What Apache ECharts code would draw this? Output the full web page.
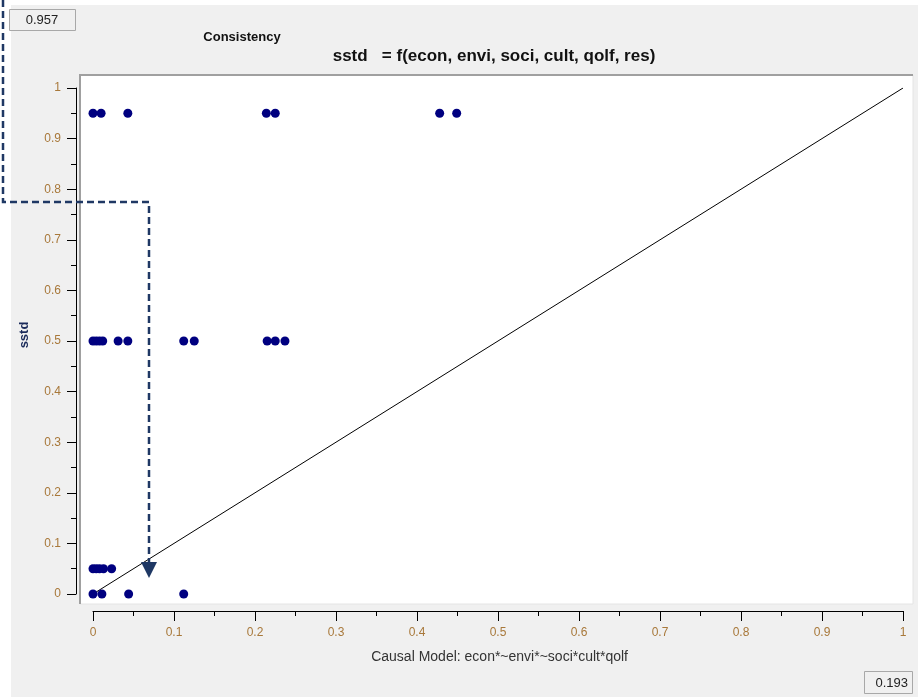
<!DOCTYPE html>
<html>
<head>
<meta charset="utf-8">
<script src="https://cdn.jsdelivr.net/npm/echarts@6/dist/echarts.min.js"></script>
<style>html,body{margin:0;padding:0;background:#fff;}#c{width:918px;height:697px;}</style>
</head>
<body>
<div id="c"></div>
<script>
// ---- data ----
var titleText = "Consistency";
var subtitleText = "sstd   = f(econ, envi, soci, cult, qolf, res)";
var xAxisName = "Causal Model: econ*~envi*~soci*cult*qolf";
var yAxisName = "sstd";
var consistencyValue = "0.957";
var coverageValue = "0.193";
var pointsX = [0, 0.01, 0.043, 0.214, 0.225, 0.428, 0.449,
               0, 0.004, 0.008, 0.012, 0.031, 0.043, 0.112, 0.125, 0.215, 0.225, 0.237,
               0, 0.004, 0.008, 0.013, 0.023,
               0, 0.011, 0.044, 0.112];
var pointsY = [0.95, 0.95, 0.95, 0.95, 0.95, 0.95, 0.95,
               0.5, 0.5, 0.5, 0.5, 0.5, 0.5, 0.5, 0.5, 0.5, 0.5, 0.5,
               0.05, 0.05, 0.05, 0.05, 0.05,
               0, 0, 0, 0];
var diagX = [0, 1];
var diagY = [0, 1];

var scatterData = pointsX.map(function (x, i) { return [x, pointsY[i]]; });
var diagData = diagX.map(function (x, i) { return [x, diagY[i]]; });

var labelColor = '#a8783a';
var font = 'Liberation Sans, Arial, sans-serif';
var arrowColor = '#1f3864';

var chart = echarts.init(document.getElementById('c'), null, {renderer: 'canvas'});
chart.setOption({
  backgroundColor: '#ffffff',
  animation: false,
  textStyle: {fontFamily: font},
  grid: {left: 93, right: 15, top: 88, bottom: 103},
  xAxis: {
    type: 'value', min: 0, max: 1, interval: 0.1, offset: 17,
    splitLine: {show: false},
    axisLine: {onZero: false, lineStyle: {color: '#000', width: 1}},
    axisTick: {show: true, inside: false, length: 10, lineStyle: {color: '#000'}},
    minorTick: {show: true, splitNumber: 2, length: 5, lineStyle: {color: '#000'}},
    axisLabel: {color: labelColor, fontSize: 12, margin: 16, fontFamily: font}
  },
  yAxis: {
    type: 'value', min: 0, max: 1, interval: 0.1, offset: 17,
    splitLine: {show: false},
    axisLine: {onZero: false, lineStyle: {color: '#000', width: 1}},
    axisTick: {show: true, inside: false, length: 9, lineStyle: {color: '#000'}},
    minorTick: {show: true, splitNumber: 2, length: 5, lineStyle: {color: '#000'}},
    axisLabel: {color: labelColor, fontSize: 12, margin: 15, fontFamily: font}
  },
  series: [
    {
      type: 'line', data: diagData, symbol: 'none', z: 3,
      lineStyle: {color: '#000', width: 1}
    },
    {
      type: 'scatter', data: scatterData, symbol: 'circle', symbolSize: 9, z: 4,
      itemStyle: {color: '#000080', opacity: 1}
    }
  ],
  graphic: [
    {type: 'rect', z: -10, silent: true, shape: {x: 11, y: 5, width: 907, height: 692}, style: {fill: '#f0f0f0'}},
    {type: 'rect', z: -9, silent: true, shape: {x: 80, y: 75, width: 833, height: 529}, style: {fill: '#ffffff', stroke: '#e4e4e4', lineWidth: 1}},
    {type: 'polyline', z: -8, silent: true, shape: {points: [[80, 604], [80, 75], [913, 75]]}, style: {stroke: '#a0a0a0', lineWidth: 2, fill: null}},
    {type: 'rect', z: 1, silent: true, shape: {x: 9.5, y: 9.5, width: 66, height: 21}, style: {fill: '#f0f0f0', stroke: '#a8a8a8', lineWidth: 1}},
    {type: 'text', z: 2, silent: true, style: {x: 42, y: 20, text: consistencyValue, fill: '#222', font: '13px ' + font, align: 'center', verticalAlign: 'middle'}},
    {type: 'rect', z: 1, silent: true, shape: {x: 864.5, y: 671.5, width: 48, height: 22}, style: {fill: '#f0f0f0', stroke: '#a8a8a8', lineWidth: 1}},
    {type: 'text', z: 2, silent: true, style: {x: 908, y: 683, text: coverageValue, fill: '#222', font: '13px ' + font, align: 'right', verticalAlign: 'middle'}},
    {type: 'text', z: 2, silent: true, style: {x: 242, y: 37, text: titleText, fill: '#111', font: 'bold 13px ' + font, align: 'center', verticalAlign: 'middle'}},
    {type: 'text', z: 2, silent: true, style: {x: 494, y: 56, text: subtitleText, fill: '#111', font: 'bold 17px ' + font, align: 'center', verticalAlign: 'middle'}},
    {type: 'text', z: 2, silent: true, style: {x: 628, y: 657, text: xAxisName, fill: '#333', font: '14px ' + font, align: 'right', verticalAlign: 'middle'}},
    {type: 'text', z: 2, silent: true, rotation: Math.PI / 2, x: 24, y: 335, style: {x: 0, y: 0, text: yAxisName, fill: '#1a2a5a', font: 'bold 13px ' + font, align: 'center', verticalAlign: 'middle'}},
    {type: 'polyline', z: 100, silent: true, shape: {points: [[3, 0], [3, 202], [149, 202], [149, 563]]}, style: {stroke: arrowColor, lineWidth: 2.5, lineDash: [7, 4], fill: null}},
    {type: 'polygon', z: 100, silent: true, shape: {points: [[141, 562], [157, 562], [149, 578]]}, style: {fill: arrowColor}}
  ]
});
</script>
</body>
</html>
